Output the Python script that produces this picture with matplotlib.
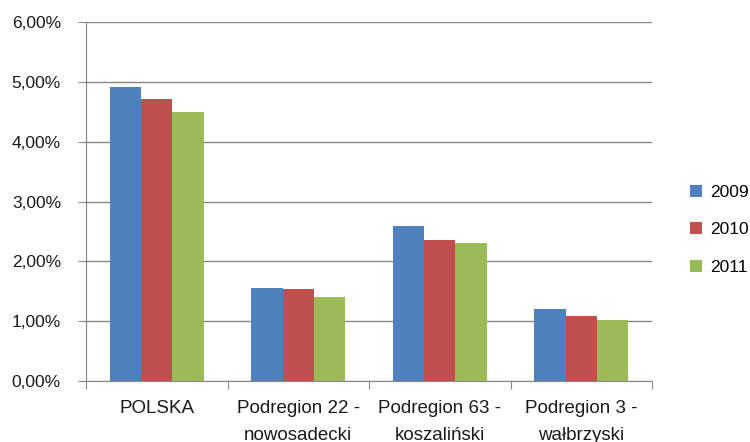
import numpy as np
import matplotlib.pyplot as plt
from matplotlib.ticker import FuncFormatter

# Udział (%) wg regionu i roku
regiony = ['POLSKA', 'Podregion 22 -\nnowosadecki', 'Podregion 63 -\nkoszaliński', 'Podregion 3 -\nwałbrzyski']
lata = ['2009', '2010', '2011']
v2009 = [4.92, 1.55, 2.59, 1.20]
v2010 = [4.71, 1.53, 2.36, 1.09]
v2011 = [4.50, 1.41, 2.30, 1.02]
kolory = ['#4F81BD', '#C0504D', '#9BBB59']

plt.rcParams['font.family'] = ['Liberation Sans', 'DejaVu Sans']

fig = plt.figure(figsize=(7.5, 4.42), dpi=100)
ax = fig.add_axes([86 / 750, 61 / 442, 566 / 750, 359 / 442])

x = np.arange(len(regiony))
w = 1 / 4.5
for i, (vals, lab) in enumerate(zip([v2009, v2010, v2011], lata)):
    ax.bar(x + (i - 1) * w, vals, width=w, color=kolory[i], label=lab, zorder=3)

ax.set_xlim(-0.5, len(regiony) - 0.5)
ax.set_ylim(0, 6)
ax.set_yticks(np.arange(0, 7, 1))
ax.yaxis.set_major_formatter(FuncFormatter(lambda v, p: f'{v:.2f}%'.replace('.', ',')))
ax.grid(axis='y', color='#868686', linewidth=1, zorder=0)

# podziałki kategorii na granicach grup
ax.set_xticks(np.arange(-0.5, len(regiony), 1))
ax.set_xticklabels([])
ax.set_xticks(x, minor=True)
ax.set_xticklabels(regiony, minor=True, fontsize=13.5, color='#1a1a1a', linespacing=1.7)
ax.tick_params(axis='x', which='major', length=6, color='#868686', direction='out')
ax.tick_params(axis='x', which='minor', length=0, pad=14)
ax.tick_params(axis='y', length=6, color='#868686', labelsize=12.5, labelcolor='#1a1a1a', pad=12)

for s in ['top', 'right']:
    ax.spines[s].set_visible(False)
for s in ['left', 'bottom']:
    ax.spines[s].set_color('#868686')

fig.legend(loc='center left', bbox_to_anchor=(674 / 750, 0.48), frameon=False,
           fontsize=12.5, handlelength=0.7, handleheight=0.7, handletextpad=0.5,
           labelspacing=1.3)

fig.savefig('out.png', dpi=100)
